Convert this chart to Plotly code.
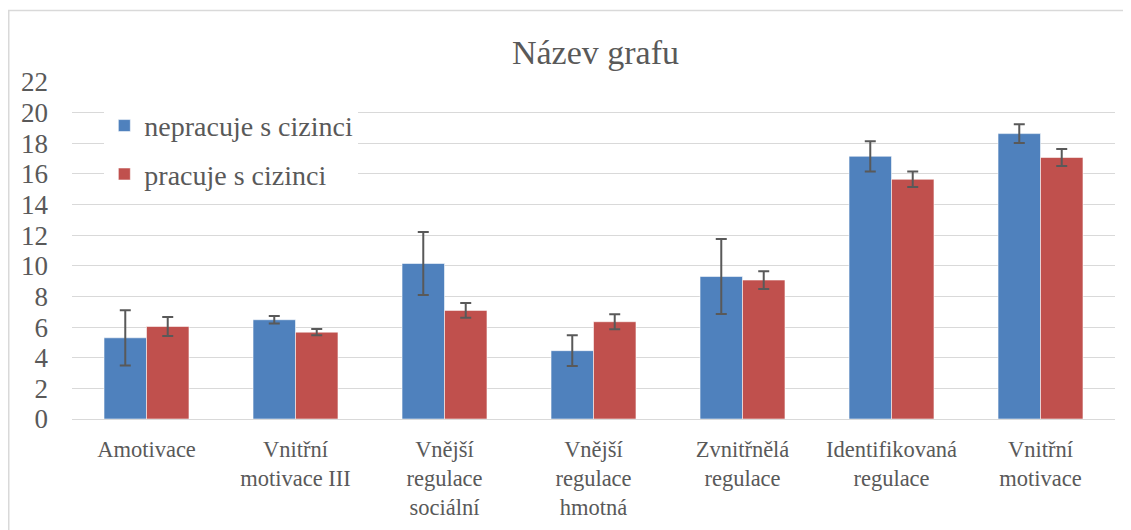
import plotly.graph_objects as go

categories = ["Amotivace", "Vnitřní<br>motivace III", "Vnější<br>regulace<br>sociální",
              "Vnější<br>regulace<br>hmotná", "Zvnitřnělá<br>regulace",
              "Identifikovaná<br>regulace", "Vnitřní<br>motivace"]
nepracuje = [5.30, 6.48, 10.15, 4.46, 9.30, 17.15, 18.63]
nepracuje_err = [1.80, 0.24, 2.05, 1.00, 2.45, 0.99, 0.62]
pracuje = [6.04, 5.67, 7.09, 6.35, 9.07, 15.65, 17.07]
pracuje_err = [0.62, 0.20, 0.48, 0.49, 0.58, 0.50, 0.56]
y_ticks = list(range(0, 23, 2))

FONT = "'Liberation Serif', 'Times New Roman', 'DejaVu Serif', serif"
TXT = "#595959"
OFF = 8  # page body margin
W, H = 1131 - OFF, 530 - OFF
ML, MR, MT, MB = 72 - OFF, 16, 82 - OFF, 111
PW, PH = W - ML - MR, H - MT - MB

fig = go.Figure()
fig.add_trace(go.Bar(
    x=categories, y=nepracuje, name="nepracuje s cizinci", legendgroup="a",
    marker=dict(color="#4F81BD", line=dict(color="rgba(255,255,255,0.55)", width=1)),
    error_y=dict(type="data", array=nepracuje_err, visible=True,
                 color="#595959", thickness=2, width=5.5),
))
fig.add_trace(go.Bar(
    x=categories, y=pracuje, name="pracuje s cizinci", legendgroup="b",
    marker=dict(color="#C0504D", line=dict(color="rgba(255,255,255,0.55)", width=1)),
    error_y=dict(type="data", array=pracuje_err, visible=True,
                 color="#595959", thickness=2, width=5.5),
))

fig.update_layout(
    width=W, height=H,
    margin=dict(l=ML, r=MR, t=MT, b=MB, autoexpand=False),
    paper_bgcolor="white", plot_bgcolor="white",
    barmode="group", bargap=0.43, bargroupgap=0,
    title=dict(text="Název grafu", x=(ML + PW / 2 + 2) / W, xanchor="center",
               y=1 - (52 - OFF) / H, yanchor="middle", yref="container",
               font=dict(family=FONT, size=34, color=TXT)),
    font=dict(family=FONT, color=TXT),
    legend=dict(x=0.031, y=0.944, xanchor="left", yanchor="top",
                bgcolor="white", font=dict(family=FONT, size=28, color=TXT),
                tracegroupgap=9, traceorder="grouped"),
    xaxis=dict(showgrid=False, showline=False, ticks="", tickangle=0,
               tickfont=dict(family=FONT, size=22.5, color=TXT),
               ticklabelstandoff=14, automargin=False),
    yaxis=dict(range=[0, 22], tickvals=y_ticks, showgrid=True,
               gridcolor="#D9D9D9", gridwidth=1.3, zeroline=True,
               zerolinecolor="#D9D9D9", zerolinewidth=1.3, showline=False,
               ticks="", tickfont=dict(family=FONT, size=27, color=TXT),
               ticklabelstandoff=23, automargin=False),
    shapes=[dict(type="rect", xref="paper", yref="paper",
                 x0=(0.75 - ML) / PW, x1=(W + 10 - ML) / PW,
                 y0=(H - MB - (H + 10)) / PH, y1=(H - MB - 2.5) / PH,
                 line=dict(color="#D9D9D9", width=1.5), layer="below")],
)

fig.write_html("out.html")
